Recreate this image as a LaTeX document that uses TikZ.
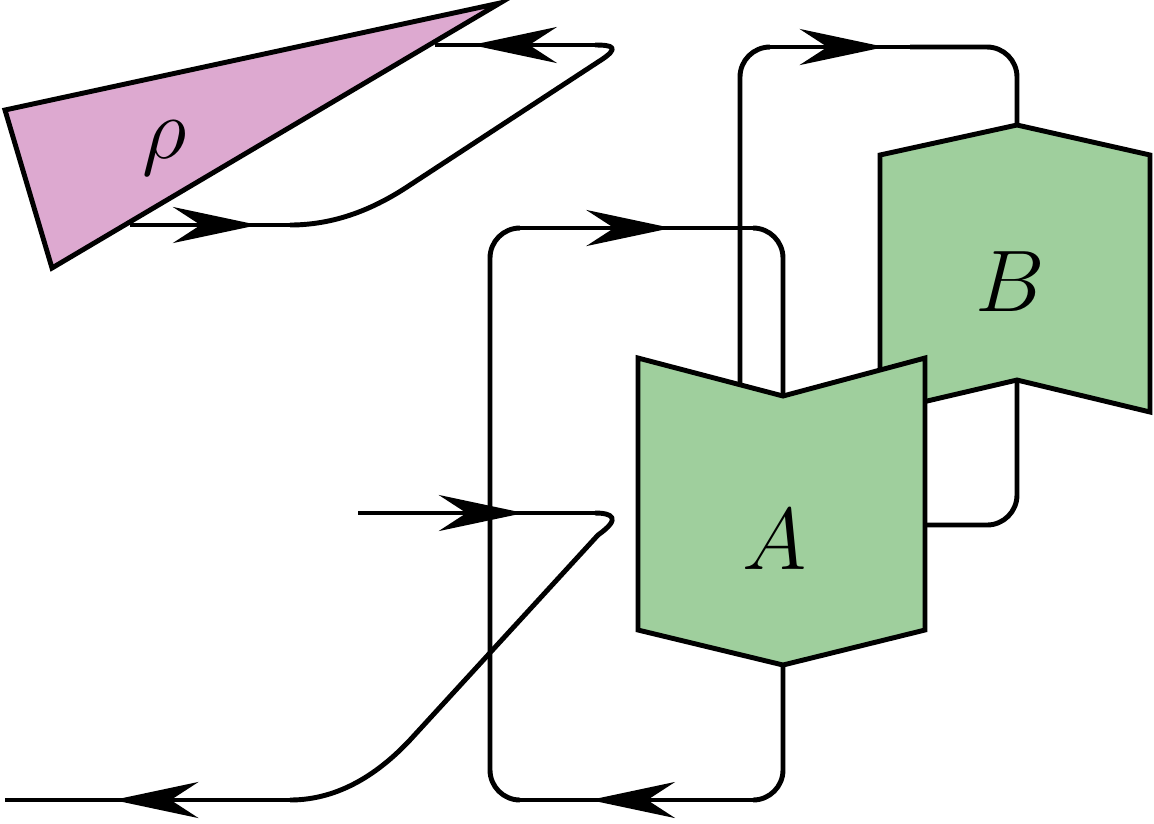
\documentclass[tikz,border=0pt]{standalone}
\usetikzlibrary{arrows.meta, decorations.markings}

\definecolor{rhofill}{HTML}{DDA9D0}
\definecolor{boxfill}{HTML}{9FCF9D}

\tikzset{
    wire/.style={line width=1.4pt, line join=round},
    arr/.style={postaction={decorate, decoration={markings,
        mark=at position #1 with {\arrow{Stealth[length=8.5mm, width=3.6mm]}}}}},
    box/.style={draw, line width=1.4pt, fill=boxfill},
    lbl/.style={font=\fontsize{47}{50}\selectfont}
}

\begin{document}
\begin{tikzpicture}[x=0.01cm, y=-0.01cm]
    \useasboundingbox (0,0) rectangle (1154,823);

    % state rho
    \draw[line width=1.4pt, fill=rhofill] (5,110) -- (500,3) -- (52,268) -- cycle;
    \node[lbl] (rho) at (165,148) {$\rho$};

    % wire from rho, folded back
    \coordinate (r1) at (130,225);
    \coordinate (r2) at (290,225);
    \coordinate (r3) at (410,185);
    \coordinate (r4) at (598,62);
    \coordinate (r5) at (595,45);
    \coordinate (r6) at (435,45);
    \draw[wire, arr=0.8] (r1) -- (r2);
    \draw[wire] (r2) .. controls (340,225) and (380,205) .. (r3) -- (r4)
        .. controls (622,47) and (612,45) .. (r5);
    \draw[wire, arr=0.77] (r5) -- (r6);

    % big loop round A
    \coordinate (aBot) at (783,665);
    \coordinate (aTop) at (783,396);
    \draw[wire] (aBot) -- (783,770) arc[start angle=0, end angle=90, radius=30] -- (753,800);
    \draw[wire, arr=0.7] (753,800) -- (520,800);
    \draw[wire] (520,800) arc[start angle=90, end angle=180, radius=30]
        -- (490,258) arc[start angle=180, end angle=270, radius=30] -- (520,228);
    \draw[wire, arr=0.65] (520,228) -- (753,228);
    \draw[wire] (753,228) arc[start angle=270, end angle=360, radius=30] -- (aTop);

    % loop from A to B
    \coordinate (aOut) at (925,525);
    \coordinate (bBot) at (1017,380);
    \coordinate (bTop) at (1017,125);
    \coordinate (aIn) at (740,385);
    \draw[wire] (aOut) -- (987,525) arc[start angle=90, end angle=0, radius=30] -- (bBot);
    \draw[wire] (bTop) -- (1017,77) arc[start angle=0, end angle=-90, radius=30] -- (910,47);
    \draw[wire] (770,47) arc[start angle=-90, end angle=-180, radius=30] -- (aIn);
    \draw[wire, arr=0.82] (770,47) -- (910,47);

    % input wire, folded back
    \coordinate (i1) at (358,513);
    \coordinate (i2) at (595,513);
    \coordinate (i3) at (598,535);
    \coordinate (i4) at (410,740);
    \coordinate (i5) at (290,800);
    \coordinate (i6) at (5,800);
    \draw[wire, arr=0.7] (i1) -- (i2);
    \draw[wire] (i2) .. controls (612,513) and (622,518) .. (i3) -- (i4)
        .. controls (380,772) and (340,800) .. (i5);
    \draw[wire, arr=0.62] (i5) -- (i6);

    % boxes
    \draw[box] (880,155) -- (1017,125) -- (1150,155) -- (1150,412) -- (1017,380) -- (880,412) -- cycle;
    \node[lbl] (B) at (1010,282) {$B$};
    \draw[box] (638,358) -- (783,396) -- (925,358) -- (925,630) -- (783,665) -- (638,630) -- cycle;
    \node[lbl] (A) at (775,540) {$A$};
\end{tikzpicture}
\end{document}
